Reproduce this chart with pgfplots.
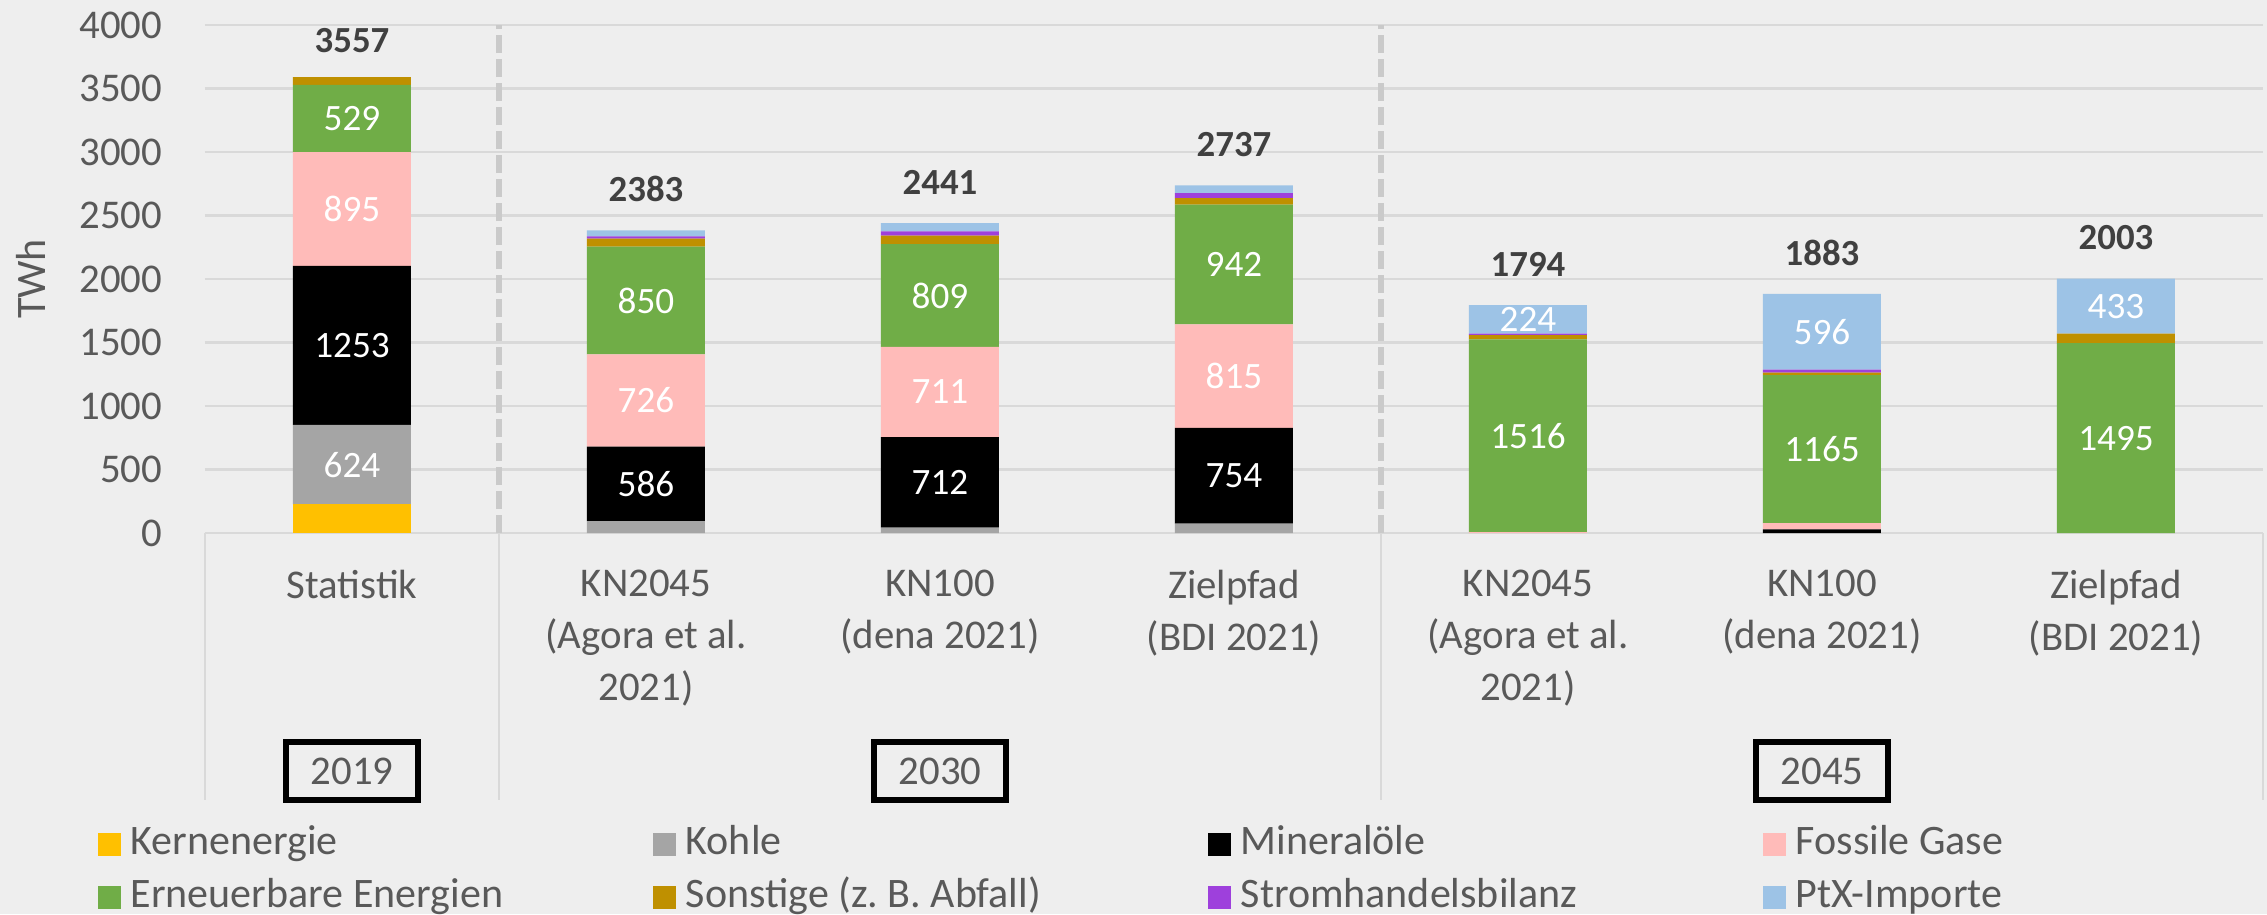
\documentclass[border=0pt]{standalone}
\usepackage{pgfplots}
\pgfplotsset{compat=1.18}
\usepackage{pgfplotstable}
\usepackage{fontspec}
\setmainfont{Carlito}
\frenchspacing
\definecolor{bg}{RGB}{238,238,238}
\definecolor{gridc}{RGB}{217,217,217}
\definecolor{sepc}{RGB}{202,202,202}
\definecolor{txt}{RGB}{89,89,89}
\definecolor{tot}{RGB}{64,64,64}
\definecolor{cKern}{RGB}{255,192,0}
\definecolor{cKohle}{RGB}{165,165,165}
\definecolor{cMin}{RGB}{0,0,0}
\definecolor{cGas}{RGB}{255,187,185}
\definecolor{cEE}{RGB}{112,173,71}
\definecolor{cSon}{RGB}{191,144,0}
\definecolor{cStrom}{RGB}{158,64,220}
\definecolor{cPtX}{RGB}{157,195,230}

\pgfplotstableread{
x Kern Kohle Min Gas EE Son Strom PtX
0 227 624 1253 895 529 62 0 0
1 0 94 586 726 850 62 17 48
2 0 43 712 711 809 66 34 66
3 0 74 754 815 942 52 39 61
4 0 0 0 8 1516 34 12 224
5 0 0 28 50 1165 20 24 596
6 0 0 0 0 1495 75 0 433
}\data

\pgfplotstableread{
x t
0 3557
1 2383
2 2441
3 2737
4 1794
5 1883
6 2003
}\totals

\pgfplotsset{
  seglbl/.style={
    visualization depends on={rawy \as \rawy},
    nodes near coords={\ifdim\rawy pt>150pt \pgfmathprintnumber[fixed,precision=0,1000 sep={},assume math mode=true]{\rawy}\fi},
    every node near coord/.append style={font=\fontsize{9.3}{11}\selectfont, text=white, anchor=center}
  }
}
\newcommand{\legtxt}[1]{\makebox[110pt][l]{#1}}

\begin{document}
\begin{tikzpicture}
\fill[bg] (-51.25pt,-95.25pt) rectangle (515.5pt,133.25pt);
\begin{axis}[
  at={(0pt,0pt)}, anchor=south west,
  scale only axis, width=514.5pt, height=127pt,
  ybar stacked, bar width=29.5pt,
  xmin=-0.5, xmax=6.5, ymin=0, ymax=4000,
  clip=false,
  xtick={0,...,6},
  xticklabels={Statistik,{KN2045\\(Agora et al.\\2021)},{KN100\\(dena 2021)},{Zielpfad\\(BDI 2021)},{KN2045\\(Agora et al.\\2021)},{KN100\\(dena 2021)},{Zielpfad\\(BDI 2021)}},
  ytick={0,500,...,4000},
  ymajorgrids,
  major grid style={gridc, line width=0.55pt},
  extra x ticks={0.5,3.5}, extra x tick labels={},
  extra x tick style={grid=major, major grid style={sepc, line width=1.5pt, dash pattern=on 4.5pt off 1.5pt}},
  axis line style={draw=none},
  major tick length=0pt,
  tick style={draw=none},
  /pgf/number format/1000 sep={},
  /pgf/number format/assume math mode=true,
  tick label style={font=\fontsize{10.2}{13}\selectfont, text=txt},
  xticklabel style={anchor=north, align=center, inner sep=0pt, yshift=-9pt},
  yticklabel style={anchor=east, inner sep=0pt, xshift=-10.5pt},
  ylabel={TWh},
  ylabel style={at={(axis description cs:-0.0845,0.5)}, anchor=center, font=\fontsize{10.5}{12}\selectfont, text=txt},
  legend columns=4,
  legend cell align=left,
  legend style={at={(-0.0525,-0.560)}, anchor=north west, draw=none, fill=none, inner sep=0pt, row sep=0pt,
    nodes={inner xsep=0pt, inner ysep=1.6pt, text height=7.5pt, text depth=2.5pt, font=\fontsize{10.5}{12}\selectfont, text=txt},
    /tikz/every odd column/.style={column sep=2.5pt},
    /tikz/every even column/.style={column sep=20.5pt}},
  legend image code/.code={\fill[#1] (0pt,-2.875pt) rectangle (5.75pt,2.875pt);},
]
\addplot[fill=cKern, draw=none] table[x=x, y=Kern] {\data};
\addlegendentry{\legtxt{Kernenergie}}
\addplot[fill=cKohle, draw=none, seglbl] table[x=x, y=Kohle] {\data};
\addlegendentry{\legtxt{Kohle}}
\addplot[fill=cMin, draw=none, seglbl] table[x=x, y=Min] {\data};
\addlegendentry{\legtxt{Mineralöle}}
\addplot[fill=cGas, draw=none, seglbl] table[x=x, y=Gas] {\data};
\addlegendentry{\legtxt{Fossile Gase}}
\addplot[fill=cEE, draw=none, seglbl] table[x=x, y=EE] {\data};
\addlegendentry{\legtxt{Erneuerbare Energien}}
\addplot[fill=cSon, draw=none] table[x=x, y=Son] {\data};
\addlegendentry{\legtxt{Sonstige (z. B. Abfall)}}
\addplot[fill=cStrom, draw=none] table[x=x, y=Strom] {\data};
\addlegendentry{\legtxt{Stromhandelsbilanz}}
\addplot[fill=cPtX, draw=none, seglbl] table[x=x, y=PtX] {\data};
\addlegendentry{\legtxt{PtX-Importe}}

\draw[gridc, line width=0.55pt] (axis cs:-0.5,0) -- ([yshift=-66.75pt]axis cs:-0.5,0);
\draw[gridc, line width=0.55pt] (axis cs:0.5,0) -- ([yshift=-66.75pt]axis cs:0.5,0);
\draw[gridc, line width=0.55pt] (axis cs:3.5,0) -- ([yshift=-66.75pt]axis cs:3.5,0);
\draw[gridc, line width=0.55pt] (axis cs:6.5,0) -- ([yshift=-66.75pt]axis cs:6.5,0);

\node[draw=black, line width=1.5pt, fill=bg, minimum width=33pt, minimum height=14.5pt, inner sep=0pt, font=\fontsize{10.2}{12}\selectfont, text=txt, yshift=-59.6pt] at (axis cs:0,0) {2019};
\node[draw=black, line width=1.5pt, fill=bg, minimum width=33pt, minimum height=14.5pt, inner sep=0pt, font=\fontsize{10.2}{12}\selectfont, text=txt, yshift=-59.6pt] at (axis cs:2,0) {2030};
\node[draw=black, line width=1.5pt, fill=bg, minimum width=33pt, minimum height=14.5pt, inner sep=0pt, font=\fontsize{10.2}{12}\selectfont, text=txt, yshift=-59.6pt] at (axis cs:5,0) {2045};
\end{axis}

\begin{axis}[
  at={(0pt,0pt)}, anchor=south west,
  scale only axis, width=514.5pt, height=127pt,
  xmin=-0.5, xmax=6.5, ymin=0, ymax=4000,
  hide axis, clip=false,
]
\addplot[only marks, mark=none, point meta=explicit symbolic, nodes near coords,
  every node near coord/.append style={font=\bfseries\fontsize{9.2}{11}\selectfont, text=tot, anchor=center, yshift=10.25pt}]
  table[x=x, y=t, meta=t] {\totals};
\end{axis}
\pgfresetboundingbox
\path[use as bounding box] (-51.25pt,-95.25pt) rectangle (515.5pt,133.25pt);
\end{tikzpicture}
\end{document}
